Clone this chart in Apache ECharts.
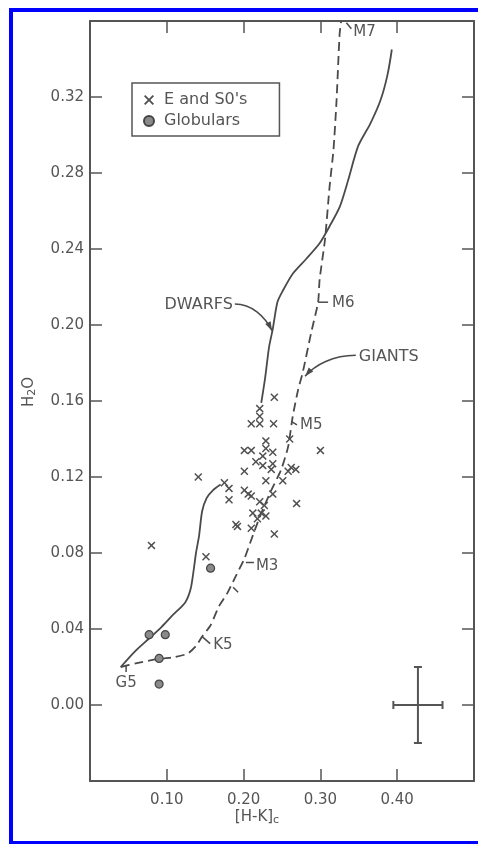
<!DOCTYPE html>
<html>
<head>
<meta charset="utf-8">
<script src="https://cdn.jsdelivr.net/npm/echarts@6/dist/echarts.min.js"></script>
<style>
  html, body { margin: 0; padding: 0; background: #fff; }
  #chart { width: 478px; height: 844px; }
</style>
</head>
<body>
<div id="chart"></div>
<script>
// H2O index against [H-K]c colour: galaxies, globular clusters and the
// dwarf / giant stellar sequences.

const xTickLabels = ['0.10', '0.20', '0.30', '0.40'];
const yTickLabels = ['0.00', '0.04', '0.08', '0.12', '0.16', '0.20', '0.24', '0.28', '0.32'];

// E and S0 galaxies  [ [H-K]c , H2O ]
const galaxies = [
  [0.240, 0.162], [0.221, 0.156], [0.221, 0.152], [0.210, 0.148], [0.221, 0.148],
  [0.239, 0.148], [0.260, 0.140], [0.229, 0.139], [0.300, 0.134], [0.201, 0.134],
  [0.210, 0.134], [0.229, 0.135], [0.238, 0.133], [0.225, 0.131], [0.216, 0.128],
  [0.225, 0.126], [0.238, 0.127], [0.201, 0.123], [0.236, 0.124], [0.262, 0.125],
  [0.258, 0.123], [0.268, 0.124], [0.141, 0.120], [0.175, 0.117], [0.181, 0.114],
  [0.181, 0.108], [0.229, 0.118], [0.251, 0.118], [0.201, 0.113], [0.210, 0.110],
  [0.238, 0.111], [0.221, 0.107], [0.227, 0.105], [0.269, 0.106], [0.212, 0.101],
  [0.223, 0.101], [0.229, 0.0995], [0.218, 0.098], [0.190, 0.095], [0.192, 0.094],
  [0.210, 0.093], [0.240, 0.090], [0.080, 0.084], [0.151, 0.078], [0.206, 0.111]
];

// Globular clusters
const globulars = [
  [0.157, 0.072], [0.077, 0.037], [0.098, 0.037], [0.090, 0.0245], [0.090, 0.011]
];

// Dwarf sequence (solid), drawn in two pieces either side of the galaxy clump
const dwarfsLower = [
  [0.040, 0.020], [0.058, 0.028], [0.077, 0.035], [0.093, 0.041], [0.107, 0.047],
  [0.124, 0.054], [0.131, 0.061], [0.135, 0.071], [0.138, 0.080], [0.142, 0.089],
  [0.146, 0.102], [0.152, 0.109], [0.160, 0.113], [0.170, 0.116]
];
const dwarfsUpper = [
  [0.223, 0.159], [0.228, 0.172], [0.233, 0.188], [0.238, 0.198], [0.244, 0.212],
  [0.251, 0.218], [0.264, 0.227], [0.282, 0.235], [0.299, 0.243], [0.312, 0.252],
  [0.325, 0.262], [0.336, 0.276], [0.349, 0.294], [0.365, 0.306], [0.378, 0.318],
  [0.387, 0.331], [0.393, 0.345]
];

// Giant sequence (dashed)
const giants = [
  [0.040, 0.020], [0.061, 0.022], [0.085, 0.024], [0.107, 0.025], [0.127, 0.027],
  [0.138, 0.031], [0.146, 0.036], [0.157, 0.042], [0.168, 0.052], [0.179, 0.059],
  [0.190, 0.068], [0.201, 0.077], [0.210, 0.087], [0.222, 0.100], [0.236, 0.113],
  [0.249, 0.124], [0.258, 0.136], [0.264, 0.152], [0.271, 0.166], [0.277, 0.175],
  [0.288, 0.196], [0.297, 0.212], [0.299, 0.224], [0.306, 0.245], [0.312, 0.273],
  [0.317, 0.292], [0.321, 0.318], [0.325, 0.353], [0.327, 0.360]
];

// Spectral types marked along the giant sequence
const spectralTypes = ['G5', 'K5', 'M3', 'M5', 'M6', 'M7'];
const spectralX = [0.047, 0.146, 0.203, 0.263, 0.297, 0.326];
const spectralY = [0.021, 0.036, 0.075, 0.149, 0.212, 0.357];
// an unlabelled tick between K5 and M3
const plainTickX = [0.185];
const plainTickY = [0.062];

// Sequence names with leader arrows
const curveNames = ['DWARFS', 'GIANTS'];
const curveNameX = [0.186, 0.350];
const curveNameY = [0.2105, 0.1835];
const curveTipX = [0.237, 0.280];
const curveTipY = [0.197, 0.173];

// Typical error bar
const errCenterX = [0.427];
const errCenterY = [0.0];
const errHalfX = [0.032];
const errHalfY = [0.020];

const INK = '#4a4a4a';
const TEXT = '#555';
const FONT = 'DejaVu Sans';

const chart = echarts.init(document.getElementById('chart'), null, { renderer: 'canvas' });

const crossPath = 'path://M0,1.3 L1.3,0 L5,3.7 L8.7,0 L10,1.3 L6.3,5 L10,8.7 L8.7,10 L5,6.3 L1.3,10 L0,8.7 L3.7,5 Z';

function fmt(list) {
  return v => {
    const s = v.toFixed(2);
    return list.indexOf(s) >= 0 ? s : '';
  };
}

const axisCommon = {
  type: 'value',
  axisLine: { show: true, onZero: false, lineStyle: { color: '#555', width: 2 } },
  axisTick: { show: true, inside: true, length: 12, lineStyle: { color: '#555', width: 1.5 } },
  splitLine: { show: false }
};

const option = {
  backgroundColor: '#fff',
  animation: false,
  grid: { left: 90, right: 4, top: 21, bottom: 63, containLabel: false },
  legend: {
    left: 132, top: 83, orient: 'vertical',
    data: ["E and S0's", 'Globulars'],
    itemWidth: 10, itemHeight: 10, itemGap: 5,
    padding: [9, 32, 7, 11],
    borderColor: '#555', borderWidth: 1.5,
    selectedMode: false,
    textStyle: { fontFamily: FONT, fontSize: 16, color: TEXT, lineHeight: 16, padding: [0, 0, 0, 5] }
  },
  xAxis: [
    Object.assign({}, axisCommon, {
      position: 'bottom', min: 0, max: 0.5, interval: 0.1,
      axisLabel: { margin: 12, fontFamily: FONT, fontSize: 15, color: TEXT, formatter: fmt(xTickLabels) }
    }),
    Object.assign({}, axisCommon, {
      position: 'top', min: 0, max: 0.5, interval: 0.1,
      axisLabel: { show: false }
    })
  ],
  yAxis: [
    Object.assign({}, axisCommon, {
      position: 'left', min: -0.04, max: 0.36, interval: 0.04,
      axisLabel: { margin: 6, fontFamily: FONT, fontSize: 15, color: TEXT, formatter: fmt(yTickLabels) }
    }),
    Object.assign({}, axisCommon, {
      position: 'right', min: -0.04, max: 0.36, interval: 0.04,
      axisLabel: { show: false }
    })
  ],
  series: [
    {
      name: 'Dwarfs', type: 'line', data: dwarfsLower, showSymbol: false, smooth: 0.25,
      lineStyle: { color: INK, width: 1.8 }, z: 2
    },
    {
      name: 'Dwarfs upper', type: 'line', data: dwarfsUpper, showSymbol: false, smooth: 0.25,
      lineStyle: { color: INK, width: 1.8 }, z: 2
    },
    {
      name: 'Giants', type: 'line', data: giants, showSymbol: false, smooth: 0.2,
      lineStyle: { color: INK, width: 1.8, type: [9, 5] }, z: 2
    },
    {
      name: "E and S0's", type: 'scatter', data: galaxies,
      symbol: crossPath, symbolSize: 8,
      itemStyle: { color: '#505050', opacity: 1 }, z: 4
    },
    {
      name: 'Globulars', type: 'scatter', data: globulars,
      symbol: 'circle', symbolSize: 8,
      itemStyle: { color: '#8a8a8a', borderColor: '#444', borderWidth: 1.2, opacity: 1 }, z: 4
    },
    {
      name: 'Error', type: 'custom',
      data: errCenterX.map((x, i) => [x, errCenterY[i], errHalfX[i], errHalfY[i]]),
      encode: { x: 0, y: 1 },
      renderItem: function (params, api) {
        const x = api.value(0), y = api.value(1), dx = api.value(2), dy = api.value(3);
        const l = api.coord([x - dx, y]), r = api.coord([x + dx, y]);
        const t = api.coord([x, y + dy]), b = api.coord([x, y - dy]);
        const st = { stroke: '#555', lineWidth: 2, fill: null };
        const cap = 4;
        const seg = (x1, y1, x2, y2) => ({ type: 'line', shape: { x1, y1, x2, y2 }, style: st });
        return {
          type: 'group',
          children: [
            seg(l[0], l[1], r[0], r[1]),
            seg(t[0], t[1], b[0], b[1]),
            seg(l[0], l[1] - cap, l[0], l[1] + cap),
            seg(r[0], r[1] - cap, r[0], r[1] + cap),
            seg(t[0] - cap, t[1], t[0] + cap, t[1]),
            seg(b[0] - cap, b[1], b[0] + cap, b[1])
          ]
        };
      },
      z: 3
    }
  ]
};

chart.setOption(option);

// Annotations positioned from data coordinates
const toPx = p => chart.convertToPixel({ gridIndex: 0 }, p);
const graphics = [];

// tick shape and label offset for each spectral type
const spectralMarks = {
  G5: { tick: [[0, 1], [0, 7]], text: [0, 18], align: 'center' },
  K5: { tick: [[0, 0], [8, 7]], text: [11, 9], align: 'left' },
  M3: { tick: [[0, 0], [8, 0]], text: [10, 4], align: 'left' },
  M5: { tick: [[0, 0], [5, 3]], text: [8, 3], align: 'left' },
  M6: { tick: [[0, 0], [10, 0]], text: [14, 1], align: 'left' },
  M7: { tick: [[6, -4], [11, 2]], text: [13, 5], align: 'left' }
};

spectralTypes.forEach((name, i) => {
  const [ax, ay] = toPx([spectralX[i], spectralY[i]]);
  const m = spectralMarks[name];
  graphics.push({
    type: 'polyline', silent: true, z: 10,
    shape: { points: m.tick.map(([dx, dy]) => [ax + dx, ay + dy]) },
    style: { stroke: INK, lineWidth: 1.5, fill: null }
  });
  graphics.push({
    type: 'text', silent: true, z: 10, x: ax + m.text[0], y: ay + m.text[1],
    style: { text: name, fontFamily: FONT, fontSize: 15, fill: TEXT, align: m.align, verticalAlign: 'middle' }
  });
});

plainTickX.forEach((x, i) => {
  const [ax, ay] = toPx([x, plainTickY[i]]);
  graphics.push({
    type: 'line', silent: true, z: 10,
    shape: { x1: ax + 1, y1: ay, x2: ax + 6, y2: ay + 5 },
    style: { stroke: INK, lineWidth: 1.5 }
  });
});

curveNames.forEach((name, i) => {
  const [lx, ly] = toPx([curveNameX[i], curveNameY[i]]);
  const [tx, ty] = toPx([curveTipX[i], curveTipY[i]]);
  const leftSide = tx > lx;
  graphics.push({
    type: 'text', silent: true, z: 10, x: lx, y: ly,
    style: { text: name, fontFamily: FONT, fontSize: 16, fill: TEXT, align: leftSide ? 'right' : 'left', verticalAlign: 'middle' }
  });
  const sx = lx + (leftSide ? 2 : -3), sy = ly - 1;
  const dx = tx - sx, dy = ty - sy;
  const c1x = sx + 0.45 * dx, c1y = sy;
  const c2x = tx - 0.2 * dx, c2y = ty - 0.55 * dy;
  graphics.push({
    type: 'bezierCurve', silent: true, z: 10,
    shape: { x1: sx, y1: sy, cpx1: c1x, cpy1: c1y, cpx2: c2x, cpy2: c2y, x2: tx, y2: ty },
    style: { stroke: INK, lineWidth: 1.5, fill: null }
  });
  const ux0 = tx - c2x, uy0 = ty - c2y, len = Math.hypot(ux0, uy0);
  const ux = ux0 / len, uy = uy0 / len, nx = -uy, ny = ux;
  graphics.push({
    type: 'polygon', silent: true, z: 10,
    shape: { points: [[tx, ty], [tx - 9 * ux + 3 * nx, ty - 9 * uy + 3 * ny], [tx - 9 * ux - 3 * nx, ty - 9 * uy - 3 * ny]] },
    style: { fill: INK }
  });
});

// Axis titles
graphics.push({
  type: 'text', silent: true, z: 10, x: 257, y: 818,
  style: {
    text: '{m|[H-K]}{s|c}', align: 'center', verticalAlign: 'middle',
    rich: {
      m: { fontFamily: FONT, fontSize: 15, fill: TEXT, lineHeight: 16, verticalAlign: 'top' },
      s: { fontFamily: FONT, fontSize: 11, fill: TEXT, lineHeight: 11, padding: [10, 0, 0, 0], verticalAlign: 'bottom' }
    }
  }
});
graphics.push({
  type: 'text', silent: true, z: 10, x: 30, y: 392, rotation: Math.PI / 2,
  style: {
    text: '{m|H}{s|2}{m|O}', align: 'center', verticalAlign: 'middle',
    rich: {
      m: { fontFamily: FONT, fontSize: 15, fill: TEXT, lineHeight: 16, verticalAlign: 'top' },
      s: { fontFamily: FONT, fontSize: 11, fill: TEXT, lineHeight: 11, padding: [10, 0, 0, 0], verticalAlign: 'bottom' }
    }
  }
});

// Blue page frame (open on the right-hand side)
graphics.push({
  type: 'rect', silent: true, z: 20,
  shape: { x: 11, y: 10, width: 520, height: 833 },
  style: { stroke: '#0000ff', lineWidth: 4, fill: null }
});

chart.setOption({ graphic: graphics });
</script>
</body>
</html>
